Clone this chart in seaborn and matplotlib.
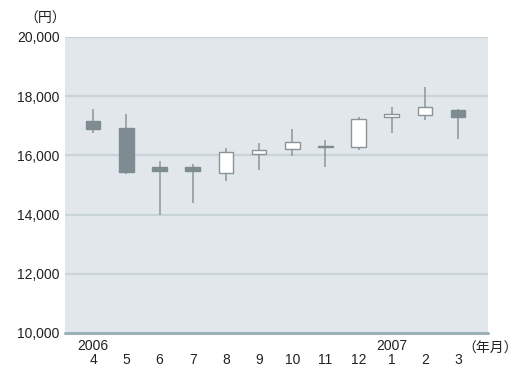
import matplotlib
matplotlib.use("Agg")
import matplotlib.pyplot as plt
import matplotlib.transforms as mtransforms
from matplotlib.ticker import FuncFormatter
import seaborn as sns
import numpy as np

# Monthly OHLC prices (yen), April 2006 - March 2007
months = ["4", "5", "6", "7", "8", "9", "10", "11", "12", "1", "2", "3"]
years = {0: "2006", 9: "2007"}
open_ = [17150, 16940, 15610, 15610, 15400, 16060, 16200, 16330, 16290, 17310, 17380, 17540]
high = [17570, 17390, 15800, 15700, 16240, 16420, 16890, 16520, 17290, 17630, 18310, 17580]
low = [16770, 15380, 13990, 14400, 15150, 15500, 15990, 15600, 16190, 16770, 17190, 16540]
close = [16890, 15450, 15470, 15470, 16130, 16170, 16450, 16270, 17240, 17410, 17620, 17290]
y_ticks = [10000, 12000, 14000, 16000, 18000, 20000]

sns.set_theme(style="white")
plt.rcParams["font.family"] = ["Liberation Sans", "Noto Sans CJK JP"]

BG = "#e2e7eb"
GRID = "#c8d4d7"
BASE = "#9db1b9"
DARK = "#7e8b91"
WICK = "#8b969b"
EDGE = "#8a9498"

fig = plt.figure(figsize=(5.2, 3.66), dpi=100)
ax = fig.add_axes([65 / 520, 1 - 333 / 366, 423 / 520, 296 / 366])
ax.set_facecolor(BG)

x = np.arange(len(months))
o = np.array(open_)
c = np.array(close)
rising = c >= o

# Wicks
ax.vlines(x, low, high, color=WICK, linewidth=1.1, zorder=2)

# Bodies
bottoms = np.minimum(o, c)
heights = np.abs(c - o)
face = ["white" if r else DARK for r in rising]
edge = [EDGE if r else DARK for r in rising]
ax.bar(x, heights, bottom=bottoms, width=0.44, color=face, edgecolor=edge,
       linewidth=1.0, zorder=3)

# Horizontal guide lines
for yv in y_ticks[1:]:
    ax.axhline(yv, color=GRID, linewidth=1.6, zorder=1)
ax.axhline(y_ticks[0], color=BASE, linewidth=2.2, zorder=4, clip_on=False)

ax.set_ylim(10000, 20000)
ax.set_xlim(-0.85, 11.9)
ax.set_yticks(y_ticks)
ax.yaxis.set_major_formatter(FuncFormatter(lambda v, p: f"{int(v):,}"))
ax.tick_params(axis="y", length=0, pad=4, labelsize=10, labelcolor="#222222")

ax.set_xticks(x)
ax.set_xticklabels(months)
ax.tick_params(axis="x", length=0, pad=14.5, labelsize=10, labelcolor="#222222")

for s in ax.spines.values():
    s.set_visible(False)

# Year labels above the first month of each year
trans = mtransforms.blended_transform_factory(ax.transData, ax.transAxes)
for i, yr in years.items():
    ax.text(i, -0.044, yr, transform=trans, ha="center", va="center",
            fontsize=10, color="#222222")

fig.text(66 / 520, 1 - 19 / 366, "（円）", ha="right", va="center",
         fontsize=10, color="#222222")
fig.text(490 / 520, 1 - 349 / 366, "（年月）", ha="center", va="center",
         fontsize=10, color="#222222")

fig.savefig("out.png", dpi=100, facecolor="white")
